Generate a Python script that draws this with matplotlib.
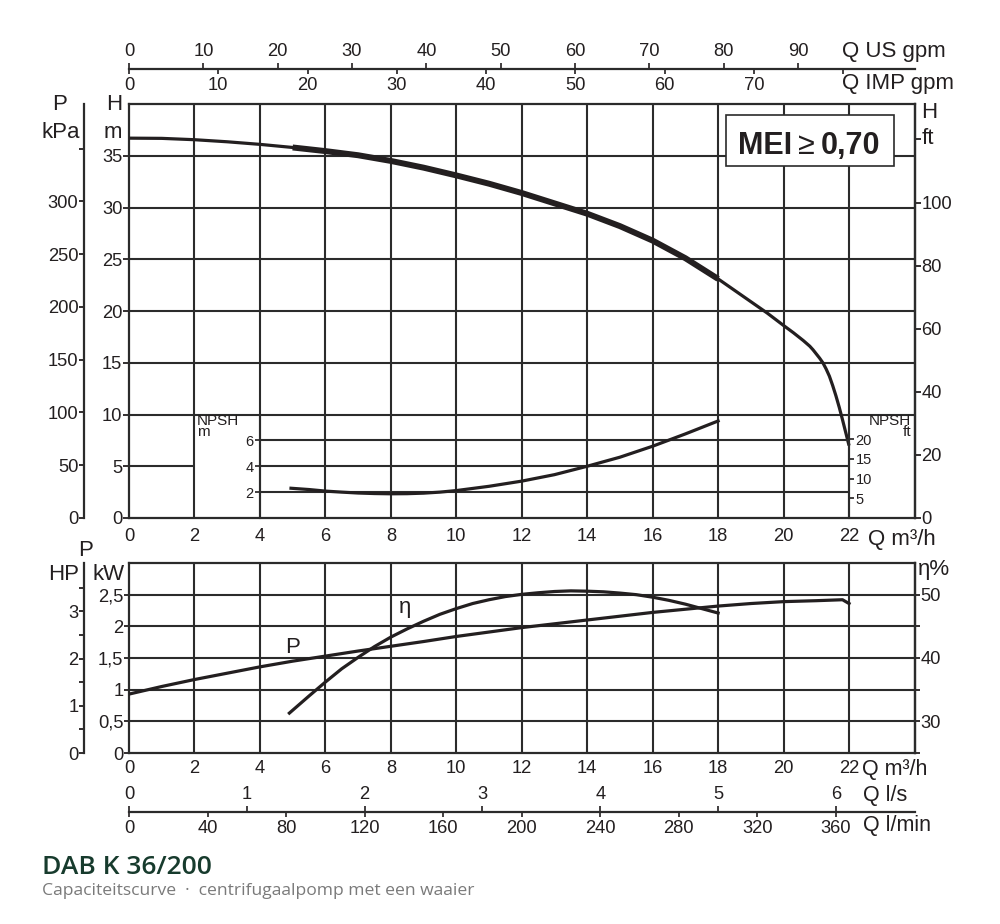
import numpy as np
import matplotlib
matplotlib.use("Agg")
import matplotlib.pyplot as plt
from matplotlib import font_manager as fm
from matplotlib.patches import Rectangle

# ---------------- data ----------------
q_head = [0, 1, 2, 3, 4, 5, 6, 7, 8, 9, 10, 11, 12, 13, 14, 15, 16, 17, 18,
          18.5, 19, 19.5, 20, 20.3, 20.6, 20.8, 20.9, 21.0, 21.1, 21.2, 21.3,
          21.4, 21.5, 21.6, 21.7, 21.8, 21.9, 22.0]
head_m = [36.7, 36.68, 36.55, 36.35, 36.1, 35.8, 35.45, 35.05, 34.5, 33.85, 33.1,
          32.3, 31.4, 30.4, 29.4, 28.2, 26.8, 25.1, 23.1,
          22.0, 20.9, 19.8, 18.6, 17.9, 17.15, 16.6, 16.25, 15.85, 15.45, 15.0,
          14.4, 13.7, 12.8, 11.8, 10.7, 9.5, 8.25, 7.0]
duty_range = (5, 18)

q_npsh = [4.95, 5.5, 6, 6.5, 7, 7.5, 8, 8.5, 9, 9.5, 10, 11, 12, 13, 14, 15, 16, 17, 18]
npsh_m = [2.3, 2.2, 2.08, 2.0, 1.93, 1.89, 1.87, 1.88, 1.92, 2.0, 2.12, 2.45,
          2.85, 3.35, 4.0, 4.7, 5.55, 6.5, 7.5]

q_power = [0, 1, 2, 3, 4, 5, 6, 7, 8, 9, 10, 11, 12, 13, 14, 15, 16, 17, 18, 19,
           20, 21, 21.8, 22]
power_kw = [0.93, 1.05, 1.16, 1.26, 1.36, 1.45, 1.53, 1.61, 1.685, 1.76, 1.84,
            1.91, 1.98, 2.04, 2.10, 2.16, 2.22, 2.27, 2.32, 2.36, 2.39, 2.405,
            2.42, 2.36]

q_eff = [4.9, 5.5, 6, 6.5, 7, 7.5, 8, 8.5, 9, 9.5, 10, 10.5, 11, 11.5, 12, 12.5,
         13, 13.5, 14, 14.5, 15, 15.5, 16, 16.5, 17, 17.5, 18]
eff_pct = [31.3, 34.0, 36.2, 38.3, 40.1, 41.8, 43.3, 44.6, 45.8, 46.9, 47.8, 48.6,
           49.2, 49.7, 50.05, 50.3, 50.5, 50.6, 50.55, 50.45, 50.25, 50.0, 49.6,
           49.1, 48.5, 47.8, 47.1]

# tick values / labels
q_ticks = list(range(0, 23, 2))
q_grid = list(range(2, 23, 2))
h_ticks = list(range(0, 36, 5))
h_grid_full = [10, 15, 20, 25, 30, 35]
h_grid_left = [5]
kpa_ticks = list(range(0, 351, 50))
kpa_labels = [str(v) if v <= 300 else "" for v in kpa_ticks]
ft_ticks = list(range(0, 121, 20))
ft_labels = [str(v) for v in ft_ticks[:-1]] + [""]
npsh_ticks = [2, 4, 6]
npsh_ft_ticks = [5, 10, 15, 20]
kw_ticks = [0, 0.5, 1, 1.5, 2, 2.5]
kw_labels = ["0", "0,5", "1", "1,5", "2", "2,5"]
eff_ticks = [25, 30, 35, 40, 45, 50]
eff_labels = ["", "30", "", "40", "", "50"]
hp_ticks = [0, 0.5, 1, 1.5, 2, 2.5, 3, 3.5]
hp_labels = ["0", "", "1", "", "2", "", "3", ""]
us_ticks = list(range(0, 91, 10))
imp_ticks = list(range(0, 81, 10))
imp_labels = [str(v) for v in imp_ticks[:-1]] + [""]
lmin_ticks = list(range(0, 361, 40))
ls_ticks = list(range(0, 7))

# unit conversions
US_PER_M3H = 1000 / 3.785411784 / 60
IMP_PER_M3H = 1000 / 4.54609 / 60
KPA_PER_M = 9.80665
FT_PER_M = 1 / 0.3048
HP_PER_KW = 1 / 0.745699872
LMIN_PER_M3H = 1000 / 60

# ---------------- fonts ----------------
names = {f.name for f in fm.fontManager.ttflist}
def pick(*cands):
    for n in cands:
        if n in names:
            return n
    return "DejaVu Sans"
SANS = pick("Liberation Sans", "Arimo", "DejaVu Sans")
NARROW = pick("Liberation Sans Narrow", SANS)
TITLEF = pick("Open Sans", "Noto Sans", SANS)
plt.rcParams["font.family"] = [SANS, "DejaVu Sans"]
MEI_SIZE = 24 if NARROW != SANS else 22

INK = "#231f20"
GRID = "#2b2b2b"
TICK = 13.2
LAB = 16
SMALL = 10.5

W, H = 1000, 924
fig = plt.figure(figsize=(W / 100, H / 100), dpi=100)
fig.patch.set_facecolor("white")

def rect(x0, y0, x1, y1):
    return [x0 / W, 1 - y1 / H, (x1 - x0) / W, (y1 - y0) / H]

def ftext(x, y, s, **kw):
    kw.setdefault("color", INK)
    return fig.text(x / W, 1 - y / H, s, **kw)

XL, XR = 129, 914.5
XMAX = 24

# ================= top chart =================
ax = fig.add_axes(rect(XL, 104, XR, 518))
ax.set_xlim(0, XMAX)
ax.set_ylim(0, 40)
for s in ax.spines.values():
    s.set_linewidth(1.6)
    s.set_color(GRID)
ax.vlines(q_grid, 0, 40, color=GRID, lw=1.5, zorder=1)
ax.hlines(h_grid_full, 0, XMAX, color=GRID, lw=1.5, zorder=1)
ax.hlines(h_grid_left, 0, 2, color=GRID, lw=1.5, zorder=1)
ax.set_xticks(q_ticks)
ax.set_xticklabels([str(v) for v in q_ticks])
ax.tick_params(axis="x", length=0, pad=7, labelsize=TICK, colors=INK)
ax.set_yticks(h_ticks)
ax.tick_params(axis="y", direction="out", length=4.3, width=1.3, pad=0.5,
               labelsize=TICK, colors=INK)

qh = np.array(q_head)
hm = np.array(head_m)
ax.plot(qh, hm, color=INK, lw=2.3, zorder=4, solid_capstyle="butt",
        solid_joinstyle="round")
mask = (qh >= duty_range[0]) & (qh <= duty_range[1])
ax.plot(qh[mask], hm[mask], color=INK, lw=4.3, zorder=5, solid_capstyle="butt",
        solid_joinstyle="round")

# MEI box
ax.add_patch(Rectangle((18.25, 34.0), 5.13, 4.9, facecolor="white",
                       edgecolor=GRID, lw=1.2, zorder=6))
t1 = ax.text(18.62, 35.15, "MEI", fontsize=MEI_SIZE, weight="bold", family=NARROW,
             color=INK, ha="left", va="baseline", zorder=7)
t2 = ax.annotate("\u2265", xy=(1, 0), xycoords=t1, xytext=(4, 0),
                 textcoords="offset points", fontsize=MEI_SIZE, family=NARROW,
                 color=INK, ha="left", va="bottom", zorder=7)
t3 = ax.annotate("0,70", xy=(1, 0), xycoords=t2, xytext=(4, 0),
                 textcoords="offset points", fontsize=MEI_SIZE, weight="bold",
                 family=NARROW, color=INK, ha="left", va="bottom", zorder=7)

# kPa axis (left, outward)
axk = ax.twinx()
axk.set_ylim(0, 40 * KPA_PER_M)
axk.yaxis.tick_left()
axk.spines["left"].set_position(("outward", 45 * 0.72))
axk.spines["left"].set_linewidth(1.6)
axk.spines["left"].set_color(GRID)
for k in ["right", "top", "bottom"]:
    axk.spines[k].set_visible(False)
axk.set_yticks(kpa_ticks)
axk.set_yticklabels(kpa_labels)
axk.tick_params(axis="y", direction="out", length=3.6, width=1.3, pad=0.5,
                labelsize=TICK, colors=INK)

# ft axis (right)
axf = ax.twinx()
axf.set_ylim(0, 40 * FT_PER_M)
for k in ["left", "top", "bottom"]:
    axf.spines[k].set_visible(False)
axf.spines["right"].set_linewidth(1.6)
axf.spines["right"].set_color(GRID)
axf.set_yticks(ft_ticks)
axf.set_yticklabels(ft_labels)
axf.tick_params(axis="y", direction="out", length=4.3, width=1.3, pad=0.5,
                labelsize=TICK, colors=INK)

# NPSH sub-axes
axn = fig.add_axes(rect(XL, 518 - 10 * 414 / 40, XR, 518))
axn.set_xlim(0, XMAX)
axn.set_ylim(0, 8)
axn.patch.set_visible(False)
for k in ["right", "top", "bottom"]:
    axn.spines[k].set_visible(False)
axn.spines["left"].set_position(("data", 4))
axn.spines["left"].set_linewidth(1.5)
axn.spines["left"].set_color(GRID)
axn.set_xticks([])
axn.set_yticks(npsh_ticks)
axn.tick_params(axis="y", direction="out", length=3.6, width=1.2, pad=1,
                labelsize=SMALL, colors=INK)
axn.hlines(npsh_ticks, 4, 22, color=GRID, lw=1.5, zorder=1)
axn.plot(q_npsh, npsh_m, color=INK, lw=2.3, zorder=4)
axn.text(2.08, 7.05, "NPSH\nm", fontsize=11, color=INK, ha="left", va="center",
         linespacing=0.75)

axnf = axn.twinx()
axnf.set_ylim(0, 8 * FT_PER_M)
for k in ["left", "top", "bottom"]:
    axnf.spines[k].set_visible(False)
axnf.spines["right"].set_position(("data", 22))
axnf.spines["right"].set_linewidth(1.5)
axnf.spines["right"].set_color(GRID)
axnf.set_yticks(npsh_ft_ticks)
axnf.tick_params(axis="y", direction="out", length=3.6, width=1.2, pad=1,
                 labelsize=SMALL, colors=INK)
axn.text(23.9, 7.05, "NPSH\nft", fontsize=11, color=INK, ha="right", va="center",
         linespacing=0.75, multialignment="right")

# axis titles, top chart
ftext(60, 104, "P", fontsize=LAB, ha="center", va="center")
ftext(61, 133, "kPa", fontsize=LAB, ha="center", va="center")
ftext(114, 105, "H", fontsize=LAB, ha="center", va="center")
ftext(113, 133, "m", fontsize=LAB, ha="center", va="center")
ftext(929, 112, "H", fontsize=LAB, ha="center", va="center")
ftext(922, 139, "ft", fontsize=LAB, ha="left", va="center")
ftext(868, 539, "Q m\u00b3/h", fontsize=LAB, ha="left", va="center")

# top flow axes (US gpm above, IMP gpm below)
axq = fig.add_axes(rect(XL, 67.5, XR, 68.5))
axq.set_xlim(0, XMAX * IMP_PER_M3H)
axq.set_yticks([])
axq.patch.set_visible(False)
for k in ["left", "right", "top"]:
    axq.spines[k].set_visible(False)
axq.spines["bottom"].set_linewidth(1.6)
axq.spines["bottom"].set_color(GRID)
axq.set_xticks(imp_ticks)
axq.set_xticklabels(imp_labels)
axq.tick_params(axis="x", direction="out", length=3.6, width=1.2, pad=2.5,
                labelsize=TICK, colors=INK)
axu = axq.twiny()
axu.set_xlim(0, XMAX * US_PER_M3H)
for s in axu.spines.values():
    s.set_visible(False)
axu.set_xticks(us_ticks)
axu.set_xticklabels([str(v) for v in us_ticks])
axu.tick_params(axis="x", direction="out", length=3.6, width=1.2, pad=1.5,
                labelsize=TICK, colors=INK)
ftext(842, 52, "Q US gpm", fontsize=LAB, ha="left", va="center")
ftext(842, 83, "Q IMP gpm", fontsize=LAB, ha="left", va="center")

# ================= bottom chart =================
axb = fig.add_axes(rect(XL, 563, XR, 753))
axb.set_xlim(0, XMAX)
axb.set_ylim(0, 3)
for s in axb.spines.values():
    s.set_linewidth(1.6)
    s.set_color(GRID)
axb.vlines(q_grid, 0, 3, color=GRID, lw=1.5, zorder=1)
axb.hlines(kw_ticks[1:], 0, XMAX, color=GRID, lw=1.5, zorder=1)
axb.set_xticks(q_ticks)
axb.set_xticklabels([str(v) for v in q_ticks])
axb.tick_params(axis="x", length=0, pad=5, labelsize=TICK, colors=INK)
axb.set_yticks(kw_ticks)
axb.set_yticklabels(kw_labels)
axb.tick_params(axis="y", direction="out", length=3.6, width=1.3, pad=0.5,
                labelsize=TICK, colors=INK)
axb.plot(q_power, power_kw, color=INK, lw=2.3, zorder=4)
axb.text(5.0, 1.67, "P", fontsize=LAB, color=INK, ha="center", va="center")
axb.text(8.45, 2.3, "\u03b7", fontsize=LAB, color=INK, ha="center", va="center")

axe = axb.twinx()
axe.set_ylim(25, 55)
for k in ["left", "top", "bottom"]:
    axe.spines[k].set_visible(False)
axe.spines["right"].set_linewidth(1.6)
axe.spines["right"].set_color(GRID)
axe.set_yticks(eff_ticks)
axe.set_yticklabels(eff_labels)
axe.tick_params(axis="y", direction="out", length=3.6, width=1.3, pad=0.5,
                labelsize=TICK, colors=INK)
axe.plot(q_eff, eff_pct, color=INK, lw=2.3, zorder=4)

axh = axb.twinx()
axh.set_ylim(0, 3 * HP_PER_KW)
axh.yaxis.tick_left()
axh.spines["left"].set_position(("outward", 45 * 0.72))
axh.spines["left"].set_linewidth(1.6)
axh.spines["left"].set_color(GRID)
for k in ["right", "top", "bottom"]:
    axh.spines[k].set_visible(False)
axh.set_yticks(hp_ticks)
axh.set_yticklabels(hp_labels)
axh.tick_params(axis="y", direction="out", length=3.6, width=1.3, pad=0.5,
                labelsize=TICK, colors=INK)

ftext(86, 550, "P", fontsize=LAB, ha="center", va="center")
ftext(64, 574, "HP", fontsize=LAB, ha="center", va="center")
ftext(109, 574, "kW", fontsize=LAB, ha="center", va="center")
ftext(918, 569, "\u03b7%", fontsize=LAB, ha="left", va="center")
ftext(862, 770, "Q m\u00b3/h", fontsize=LAB - 0.5, ha="left", va="center")

# bottom flow axes (l/s above, l/min below)
axl = fig.add_axes(rect(XL, 810.5, XR, 811.5))
axl.set_xlim(0, XMAX * LMIN_PER_M3H)
axl.set_yticks([])
axl.patch.set_visible(False)
for k in ["left", "right", "top"]:
    axl.spines[k].set_visible(False)
axl.spines["bottom"].set_linewidth(1.6)
axl.spines["bottom"].set_color(GRID)
axl.set_xticks(lmin_ticks)
axl.set_xticklabels([str(v) for v in lmin_ticks])
axl.tick_params(axis="x", direction="out", length=3.6, width=1.2, pad=2.5,
                labelsize=TICK, colors=INK)
axs = axl.twiny()
axs.set_xlim(0, XMAX * LMIN_PER_M3H / 60)
for s in axs.spines.values():
    s.set_visible(False)
axs.set_xticks(ls_ticks)
axs.set_xticklabels([str(v) for v in ls_ticks])
axs.tick_params(axis="x", direction="out", length=3.6, width=1.2, pad=1.5,
                labelsize=TICK, colors=INK)
ftext(863, 796, "Q l/s", fontsize=LAB - 0.5, ha="left", va="center")
ftext(863, 825, "Q l/min", fontsize=LAB - 0.5, ha="left", va="center")

# ================= title =================
ftext(42, 874, "DAB K 36/200", fontsize=19, weight="semibold", family=TITLEF,
      color="#173b2d", ha="left", va="baseline")
ftext(42, 895, "Capaciteitscurve  \u00b7  centrifugaalpomp met een waaier",
      fontsize=12.6, family=TITLEF, color="#7a7a7a", ha="left", va="baseline")

fig.savefig("out.png", dpi=100, facecolor="white")
